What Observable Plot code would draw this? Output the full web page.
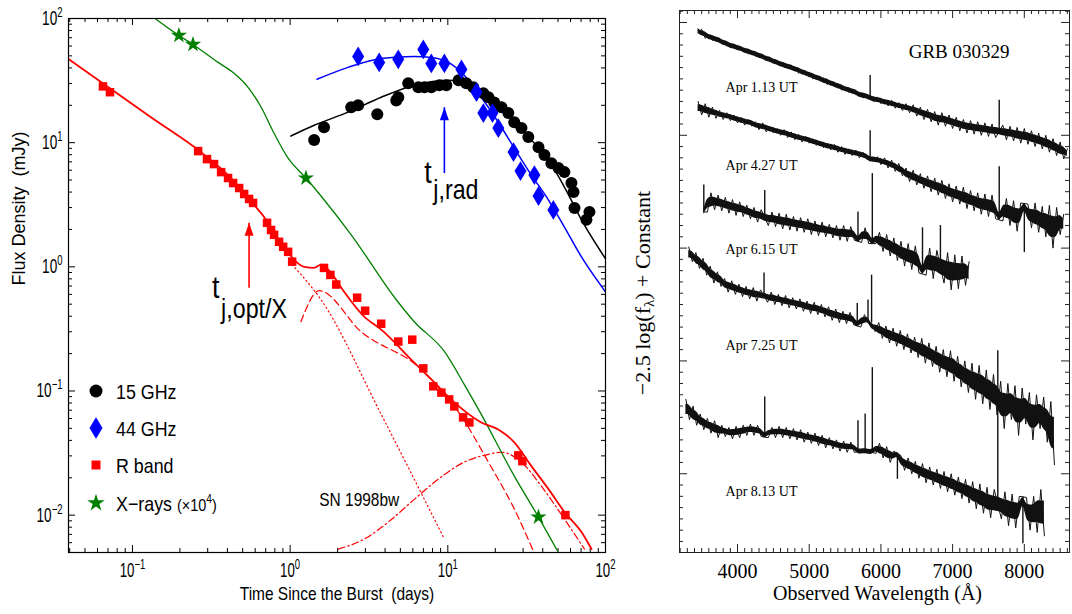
<!DOCTYPE html>
<html>
<head>
<meta charset="utf-8">
<script src="https://cdn.jsdelivr.net/npm/d3@7"></script>
<script src="https://cdn.jsdelivr.net/npm/@observablehq/plot@0.6"></script>
<style>
html,body{margin:0;padding:0;background:#fff;overflow:hidden}
#wrap{position:relative;width:1072px;height:614px;background:#fff}
#left{position:absolute;left:0;top:0}
#right{position:absolute;left:620px;top:0}
#legend{position:absolute;left:0;top:0;pointer-events:none}
#ylabR{position:absolute;left:643px;top:293px;transform:translate(-50%,-50%) rotate(-90deg);font-family:'Liberation Serif','Times New Roman',serif;font-size:22px;white-space:nowrap;color:#000}
#ylabR sub{font-size:15px;vertical-align:-4px;line-height:0}
</style>
</head>
<body>
<div id="wrap">
<div id="left"></div>
<div id="right"></div>
<div id="legend"></div>
<div id="ylabR">&minus;2.5 log(f<sub>&lambda;</sub>) + Constant</div>
</div>
<script>
// ---------------- LEFT PANEL DATA (time in days, flux density in mJy) ----------------
const radio15T = [1.42, 1.64, 2.44, 2.70, 3.57, 4.71, 4.85, 5.61, 6.50, 7.10, 7.86, 8.83, 9.78, 11.7, 13.1, 14.5, 16.8, 18.1, 19.7, 21.9, 24.2, 26.4, 29.3, 32.4, 37.6, 41.0, 45.4, 50.3, 54.9, 60.8, 62.7, 63.6, 75.7, 79.1];
const radio15F = [10.5, 13.3, 19.3, 20.0, 16.9, 21.9, 23.2, 30.1, 27.9, 27.9, 27.9, 29.0, 29.0, 31.8, 30.1, 27.9, 25.0, 23.2, 21.1, 19.3, 17.3, 14.6, 13.1, 11.1, 9.2, 7.94, 6.84, 6.24, 5.79, 4.73, 4.0, 2.98, 2.39, 2.77];
const radio44T = [2.70, 3.67, 4.85, 6.99, 7.86, 9.51, 12.2, 15.2, 16.8, 19.2, 20.9, 26.1, 28.9, 35.4, 37.6, 46.7];
const radio44F = [49.5, 44.3, 46.9, 56.4, 43.5, 43.5, 38.9, 25.5, 17.3, 17.3, 13.1, 8.39, 5.9, 5.48, 3.72, 2.87];
const rbandT = [0.065, 0.072, 0.261, 0.297, 0.329, 0.365, 0.404, 0.435, 0.475, 0.511, 0.549, 0.582, 0.714, 0.757, 0.791, 0.851, 0.903, 0.971, 1.03, 1.64, 1.80, 1.96, 2.66, 2.99, 3.78, 4.85, 5.95, 6.99, 8.09, 9.10, 10.2, 11.0, 12.5, 13.7, 28.0, 29.7, 55.7];
const rbandF = [28.4, 25.5, 8.55, 7.37, 6.72, 5.79, 5.19, 4.73, 4.31, 3.86, 3.52, 3.27, 2.26, 1.98, 1.81, 1.59, 1.45, 1.32, 1.10, 0.98, 0.86, 0.72, 0.564, 0.443, 0.348, 0.250, 0.259, 0.152, 0.109, 0.097, 0.0855, 0.0751, 0.0613, 0.0558, 0.0303, 0.0272, 0.0100];
const xrayT = [0.197, 0.242, 1.26, 37.6];
const xrayF = [73, 61.8, 5.19, 0.00964];

// model curves
const r15ModelT = [1.01, 1.42, 2.33, 3.78, 6.13, 10.1, 12.7, 16.3, 20.9, 26.4, 33.9, 43.5, 54.9, 70.4, 101];
const r15ModelF = [11.3, 13.8, 17.6, 23.2, 29.0, 31.8, 30.6, 26.4, 20.8, 14.6, 10.5, 7.23, 4.39, 2.39, 1.14];
const r44ModelT = [1.48, 2.33, 3.78, 6.13, 7.86, 10.1, 12.7, 16.3, 20.9, 26.4, 33.9, 43.5, 54.9, 70.4, 101];
const r44ModelF = [32.4, 40.4, 47.7, 49.5, 48.6, 44.3, 34.9, 23.2, 14.6, 9.03, 5.48, 3.45, 2.09, 1.20, 0.618];
const xrayModelT = [0.113, 0.197, 0.242, 0.349, 0.441, 0.541, 0.655, 0.791, 0.971, 1.26, 1.57, 2.44, 4.71, 6.13, 9.51, 12.7, 16.3, 26.4, 37.6, 49.6];
const xrayModelF = [122, 73, 61.8, 44.3, 36.2, 27.9, 19.3, 11.9, 7.5, 5.19, 3.72, 1.81, 0.543, 0.361, 0.208, 0.113, 0.0648, 0.0206, 0.00964, 0.00514];
const rModelT = [0.0395, 0.131, 0.272, 0.422, 0.591, 0.684, 0.791, 0.971, 1.09, 1.23, 1.42, 1.57, 1.82, 2.11, 2.95, 3.78, 6.13, 7.86, 11.0, 16.3, 20.9, 26.4, 33.9, 43.5, 54.9, 70.4, 81.5];
const rModelF = [47.0, 16.0, 8.39, 5.19, 3.15, 2.52, 1.88, 1.30, 1.10, 1.0, 0.982, 1.04, 0.895, 0.678, 0.397, 0.312, 0.169, 0.124, 0.0809, 0.0558, 0.049, 0.0386, 0.0248, 0.0162, 0.0106, 0.0073, 0.00533];
const jet1T = [1.03, 1.57, 3.78, 9.51];
const jet1F = [1.04, 0.543, 0.0648, 0.00641];
const jet2T = [1.17, 1.53, 2.82, 6.79, 12.2, 18.1, 26.4, 34.9];
const jet2F = [0.361, 0.642, 0.30, 0.149, 0.0624, 0.0267, 0.0112, 0.00514];
const snT = [2.02, 2.95, 4.19, 6.13, 8.71, 12.7, 18.1, 21.9, 29.3, 39.2, 54.9, 73.6];
const snF = [0.00533, 0.00641, 0.00879, 0.0134, 0.0195, 0.0267, 0.0309, 0.0321, 0.0267, 0.0171, 0.00929, 0.00533];

// annotations
const arrowT = [0.549, 9.51];
const arrowFrom = [0.678, 5.69];
const arrowTo = [2.26, 19.3];
const tMainT = [0.320, 7.09];
const tMainF = [0.564, 4.73];
const tSubT = [0.365, 8.09];
const tSubF = [0.389, 3.52];
const tSubText = ["j,opt/X", "j,rad"];
const snLabel = {t: 1.53, f: 0.0118, s: "SN 1998bw"};

const lxMajor = [0.1, 1, 10, 100];
const lyMajor = [0.01, 0.1, 1, 10, 100];
const legendNames = ["15 GHz", "44 GHz", "R band", "X\u2212rays"];

// ---------------- RIGHT PANEL DATA (wavelength in Angstrom, -2.5 log f + const, in 0.01 mag) ----------------
const specStep = 50;
const specStart = [3450, 3450, 3530, 3320, 3280];
const specApr1 = [9,6,14,11,16,13,18,16,21,19, 23,21,25,23,28,25,30,28,32,30, 35,33,37,35,40,37,42,39,45,42, 47,44,50,47,52,49,55,52,57,54, 60,57,62,59,64,62,67,64,47,70, 66,72,68,74,69,76,71,78,72,80, 73,83,75,86,77,88,79,91,80,92, 82,94,84,96,86,98,87,99,88,100, 89,101,90,102,69,91,104,92,105,93, 107,94,108,96,110,98,112,100,115,103, 118,106,121,112];
const specApr4 = [70,82,72,84,75,85,78,86,80,87, 82,89,84,91,86,92,88,95,89,97, 92,98,94,100,95,102,97,104,99,106, 101,107,103,109,105,111,107,113,108,115, 110,117,112,118,113,120,115,121,96,123, 119,126,120,129,122,132,125,136,129,141, 131,144,134,147,136,150,138,153,140,156, 143,159,145,161,146,165,149,167,151,170, 152,172,153,174,128,176,156,180,158,185, 160,204,161,182,160,186,163,190,162,200, 164,188,170];
const specApr6 = [144,168,151,166,153,167,155,169,157,171, 159,172,162,174,164,177,166,149,180,168, 181,169,183,170,184,172,185,173,186,174, 188,176,189,177,190,179,191,180,193,180, 194,181,193,168,195,182,196,134,196,186, 203,188,207,191,211,194,216,196,219,198, 222,182,224,200,227,202,180,231,204,237, 206,236,207,233,212];
const specApr7 = [199,212,204,218,209,224,216,231,221,234, 227,239,229,241,232,243,234,245,235,247, 237,222,248,239,250,241,251,242,253,244, 254,245,256,247,258,248,259,250,261,252, 264,254,266,256,267,257,268,249,270,259, 246,224,274,266,280,269,284,271,287,273, 290,276,293,279,297,280,302,284,305,287, 310,290,314,291,318,296,323,300,328,302, 334,304,338,308,343,312,348,318,360,320, 352,322,366,324,356,328,370,330,360,332, 372,336,392];
const specApr8 = [334,352,340,357,347,361,351,364,353,368, 357,367,359,369,358,368,357,366,356,366, 357,367,332,368,359,368,358,368,359,369, 360,370,361,372,363,373,364,375,366,377, 368,378,370,380,371,381,372,381,353,380, 347,380,306,382,373,386,376,390,380,405, 384,397,386,400,389,404,391,408,394,410, 396,413,398,416,400,419,403,422,405,426, 407,431,409,435,412,439,414,291,440,416, 446,418,448,420,462,421,450,420,452,414, 455];
// narrow emission / sky-line samples in each spectrum (drawn as thin spikes)
const specLines = [[5850, 7650], [5850, 7650, 8000], [3530, 4380, 5680, 5880, 6580, 6830], [4370, 5670, 5820, 5870], [4380, 5680, 5780, 5880, 6230, 7630, 7980]];
const specLabels = ["Apr 1.13 UT", "Apr 4.27 UT", "Apr 6.15 UT", "Apr 7.25 UT", "Apr 8.13 UT"];
const specLabelWave = 3833;
const specLabelLevel = [57.6, 126.8, 201, 286.3, 415.8];
const title = {w: 7090, v: 25.7, s: "GRB 030329"};
const rxMajor = [4000, 5000, 6000, 7000, 8000];
const ryMajor = [0, 100, 200, 300, 400];

// ---------------- helpers ----------------
const RED = "#ff0000", BLUE = "#0000ff", GREEN = "#007f00", BLACK = "#000000";
const SANS = "'Liberation Sans',Arial,Helvetica,sans-serif";
const SERIF = "'Liberation Serif','Times New Roman',serif";
const rows = (T, F) => T.map((t, i) => ({t, f: F[i]}));
const sciFmt = d => { const e = Math.round(Math.log10(d)); return "10^" + (e < 0 ? "\u2212" + (-e) : String(e)); };

const tallDiamond = {draw(ctx, size) { const w = Math.sqrt(size) / 2, h = w * 1.65; ctx.moveTo(0, -h); ctx.lineTo(w, 0); ctx.lineTo(0, h); ctx.lineTo(-w, 0); ctx.closePath(); }};
const arrowHead = {draw(ctx) { ctx.moveTo(0, 0); ctx.lineTo(4.5, 13); ctx.lineTo(-4.5, 13); ctx.closePath(); }};

function minorLog(lo, hi) {
  const out = [];
  for (const dec of [0.001, 0.01, 0.1, 1, 10]) for (let m = 2; m <= 9; m++) { const v = +(dec * m).toPrecision(3); if (v >= lo && v <= hi) out.push(v); }
  return out;
}
function frameTicks(xMaj, xMin, yMaj, yMin, iw, ih, majLen, minLen, color) {
  const out = [];
  for (const [arr, len] of [[xMaj, majLen], [xMin, minLen]]) {
    out.push(Plot.tickX(arr, {x: d => d, insetTop: ih - len, stroke: color}));
    out.push(Plot.tickX(arr, {x: d => d, insetBottom: ih - len, stroke: color}));
  }
  for (const [arr, len] of [[yMaj, majLen], [yMin, minLen]]) {
    out.push(Plot.tickY(arr, {y: d => d, insetRight: iw - len, stroke: color}));
    out.push(Plot.tickY(arr, {y: d => d, insetLeft: iw - len, stroke: color}));
  }
  return out;
}
function superscriptTicks(svg, supSize, rise) {
  const ns = "http://www.w3.org/2000/svg";
  svg.querySelectorAll('g[aria-label$="tick label"] text').forEach(el => {
    const m = el.textContent.match(/^10\^(.+)$/);
    if (!m) return;
    el.textContent = "";
    const b = document.createElementNS(ns, "tspan"); b.textContent = "10";
    const s = document.createElementNS(ns, "tspan"); s.textContent = m[1];
    s.setAttribute("dy", -rise); s.setAttribute("font-size", supSize);
    el.append(b, s);
  });
}
// the original figure is horizontally compressed: squeeze text glyphs about their anchors
function squeeze(svg, selector, k) {
  svg.querySelectorAll(selector).forEach(el => {
    const t = el.getAttribute("transform") || "";
    if (t.includes("rotate")) return;
    const x = +el.getAttribute("x") || 0, y = +el.getAttribute("y") || 0;
    el.setAttribute("transform", `${t} translate(${x},${y}) scale(${k},1) translate(${-x},${-y})`);
  });
}

// ---------------- LEFT PLOT ----------------
const LW = 620, LH = 614, LM = {l: 68, r: 15, t: 18, b: 62};
const liw = LW - LM.l - LM.r, lih = LH - LM.t - LM.b;
const lxDomain = [0.0393, 100], lyDomain = [0.005, 100];
const lineOpts = (stroke, w, dash) => ({x: "t", y: "f", stroke, strokeWidth: w, strokeDasharray: dash, clip: true, curve: "monotone-x"});

const leftPlot = Plot.plot({
  width: LW, height: LH,
  marginLeft: LM.l, marginRight: LM.r, marginTop: LM.t, marginBottom: LM.b,
  x: {type: "log", domain: lxDomain, label: null},
  y: {type: "log", domain: lyDomain, label: null},
  style: {fontFamily: SANS, fontSize: "20px", color: "black", background: "white"},
  marks: [
    ...frameTicks(lxMajor, minorLog(...lxDomain), lyMajor, minorLog(...lyDomain), liw, lih, 7, 4, "black"),
    Plot.axisX({ticks: lxMajor, tickSize: 0, tickPadding: 11, tickFormat: sciFmt, fontSize: 19.5}),
    Plot.axisY({ticks: lyMajor, tickSize: 0, tickPadding: 6, tickFormat: sciFmt, fontSize: 20}),
    Plot.line(rows(jet1T, jet1F), lineOpts(RED, 1.2, "1.2,3")),
    Plot.line(rows(jet2T, jet2F), lineOpts(RED, 1.2, "7,4")),
    Plot.line(rows(snT, snF), lineOpts(RED, 1.2, "7,3,1.5,3")),
    Plot.line(rows(xrayModelT, xrayModelF), lineOpts(GREEN, 1.3)),
    Plot.line(rows(rModelT, rModelF), lineOpts(RED, 1.8)),
    Plot.line(rows(r15ModelT, r15ModelF), lineOpts(BLACK, 1.5)),
    Plot.line(rows(r44ModelT, r44ModelF), lineOpts(BLUE, 1.5)),
    Plot.dot(rows(radio15T, radio15F), {x: "t", y: "f", r: 6, fill: BLACK, symbol: "circle"}),
    Plot.dot(rows(radio44T, radio44F), {x: "t", y: "f", r: 6.77, fill: BLUE, symbol: tallDiamond}),
    Plot.dot(rows(rbandT, rbandF), {x: "t", y: "f", r: 4.8, fill: RED, symbol: "square"}),
    Plot.dot(rows(xrayT, xrayF), {x: "t", y: "f", r: 5.1, fill: GREEN, symbol: "star"}),
    ...arrowT.map((t, i) => Plot.link([{t, a: arrowFrom[i], b: arrowTo[i]}], {x1: "t", x2: "t", y1: "a", y2: "b", stroke: i === 0 ? RED : BLUE, strokeWidth: 1.6})),
    ...arrowT.map((t, i) => Plot.dot([{t, f: arrowTo[i]}], {x: "t", y: "f", symbol: arrowHead, fill: i === 0 ? RED : BLUE, stroke: "none"})),
    Plot.text(rows(tMainT, tMainF), {x: "t", y: "f", text: () => "t", textAnchor: "start", lineAnchor: "bottom", fontSize: 31}),
    Plot.text(tSubT.map((t, i) => ({t, f: tSubF[i], s: tSubText[i]})), {x: "t", y: "f", text: "s", textAnchor: "start", lineAnchor: "bottom", fontSize: 27}),
    Plot.text([snLabel], {x: "t", y: "f", text: "s", textAnchor: "start", lineAnchor: "bottom", fontSize: 18}),
    Plot.text(["Time Since the Burst  (days)"], {frameAnchor: "bottom", dy: 47, fontSize: 18}),
    Plot.text(["Flux Density  (mJy)"], {frameAnchor: "left", rotate: -90, dx: -49, fontSize: 18}),
    Plot.frame({stroke: "black", strokeWidth: 1.2})
  ]
});
superscriptTicks(leftPlot, 14, 8);
squeeze(leftPlot, 'g[aria-label$="tick label"] text', 0.68);
squeeze(leftPlot, 'g[aria-label="text"] text', 0.86);
document.getElementById("left").append(leftPlot);

// legend
(function () {
  const ys = [391, 428, 465, 503];
  const colors = [BLACK, BLUE, RED, GREEN];
  const syms = [d3.symbol(d3.symbolCircle, Math.PI * 6.5 * 6.5)(), d3.symbol(tallDiamond, 169)(), d3.symbol(d3.symbolSquare, 81)(), d3.symbol(d3.symbolStar, 95)()];
  let s = `<svg width="620" height="614" xmlns="http://www.w3.org/2000/svg" style="font-family:'Liberation Sans',Arial,sans-serif">`;
  legendNames.forEach((n, i) => {
    s += `<path transform="translate(96,${ys[i]})" d="${syms[i]}" fill="${colors[i]}"/>`;
    s += `<text transform="translate(116,${ys[i] + 7.5}) scale(0.85,1)" font-size="21">${n}`;
    if (i === 3) s += ` <tspan font-size="17">(\u00d710</tspan><tspan font-size="12" dy="-8">4</tspan><tspan font-size="17" dy="8">)</tspan>`;
    s += `</text>`;
  });
  s += `</svg>`;
  document.getElementById("legend").innerHTML = s;
})();

// ---------------- RIGHT PLOT ----------------
const RW = 452, RH = 614, RM = {l: 59, r: 3, t: 10, b: 62};
const riw = RW - RM.l - RM.r, rih = RH - RM.t - RM.b;
const spectra = [specApr1, specApr4, specApr6, specApr7, specApr8];
const rxMinor = d3.range(3200, 8700, 100).filter(d => d % 1000 !== 0);
const ryMinor = d3.range(-10, 470, 10).filter(d => d % 100 !== 0);
const specRows = spectra.map((vals, k) => vals.map((v, i) => {
  const w = specStart[k] + i * specStep;
  return {w, v, line: specLines[k].includes(w)};
}));
// continuum level under each narrow line = mean of nearest non-line neighbours
specRows.forEach(r => r.forEach((d, i) => {
  if (!d.line) { d.c = d.v; return; }
  let a = i - 1; while (a >= 0 && r[a].line) a--;
  let b = i + 1; while (b < r.length && r[b].line) b++;
  d.c = d3.mean([a >= 0 ? r[a].v : undefined, b < r.length ? r[b].v : undefined]);
}));
// dense core of the noisy spectrum: central part of the running 3-sample envelope
const bandRows = specRows.map(r => r.map((d, i) => {
  const win = r.slice(Math.max(0, i - 1), i + 2).map(e => e.c);
  const lo = d3.min(win), hi = d3.max(win), mid = (lo + hi) / 2, half = Math.max(2.2, (hi - lo) / 2 * 0.5);
  return {w: d.w, c: d.c, lo: mid - half, hi: mid + half};
}));
const spikeRows = specRows.flatMap(r => r.filter(d => d.line));

const rightPlot = Plot.plot({
  width: RW, height: RH,
  marginLeft: RM.l, marginRight: RM.r, marginTop: RM.t, marginBottom: RM.b,
  x: {domain: [3191, 8630], label: null},
  y: {domain: [-10.6, 469.8], reverse: true, label: null, axis: null},
  style: {fontFamily: SERIF, fontSize: "20px", color: "black", background: "white"},
  marks: [
    ...frameTicks(rxMajor, rxMinor, ryMajor, ryMinor, riw, rih, 8, 4, "#222"),
    Plot.axisX({ticks: rxMajor, tickSize: 0, tickPadding: 11, tickFormat: d => String(d)}),
    ...bandRows.map(r => Plot.areaY(r, {x: "w", y1: "lo", y2: "hi", fill: "#111", curve: "basis", clip: true})),
    ...bandRows.map(r => Plot.line(r, {x: "w", y: "c", stroke: "#111", strokeWidth: 1, clip: true})),
    Plot.ruleX(spikeRows, {x: "w", y1: "c", y2: "v", stroke: "#111", strokeWidth: 1.4, clip: true}),
    Plot.text(specLabels.map((s, i) => ({w: specLabelWave, v: specLabelLevel[i], s})), {x: "w", y: "v", text: "s", textAnchor: "start", fontSize: 14}),
    Plot.text([title], {x: "w", y: "v", text: "s", fontSize: 19}),
    Plot.text(["Observed Wavelength (\u00c5)"], {frameAnchor: "bottom", dy: 47, dx: 3, fontSize: 20}),
    Plot.frame({stroke: "#222", strokeWidth: 1})
  ]
});
document.getElementById("right").append(rightPlot);
</script>
</body>
</html>
